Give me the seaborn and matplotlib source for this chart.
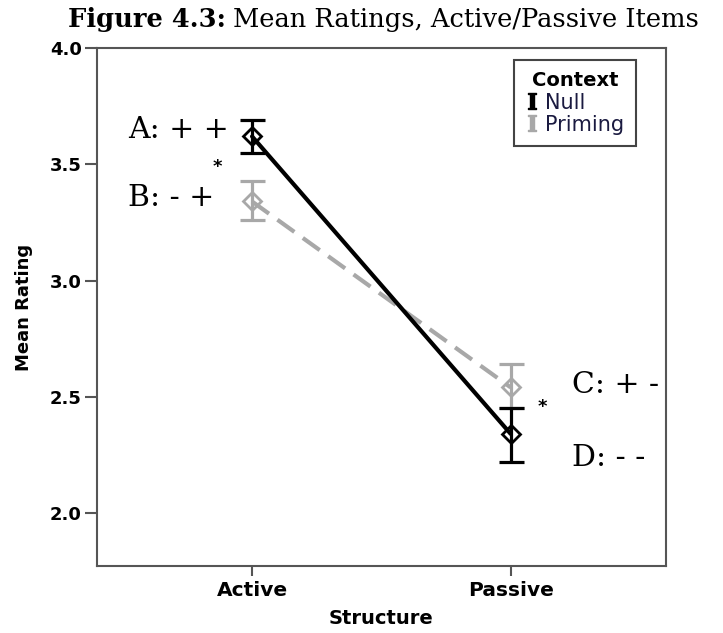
import numpy as np
import pandas as pd
import matplotlib
matplotlib.use("Agg")
import matplotlib.pyplot as plt
import seaborn as sns
from matplotlib.lines import Line2D

# data
structures = ["Active", "Passive"]
contexts = ["Null", "Priming"]
null_mean = [3.62, 2.34]
null_lo = [3.55, 2.22]
null_hi = [3.69, 2.45]
priming_mean = [3.34, 2.54]
priming_lo = [3.26, 2.45]
priming_hi = [3.43, 2.64]
tick_vals = [2.0, 2.5, 3.0, 3.5, 4.0]
cell_labels = ["A: + +", "B: - +", "C: + -", "D: - -"]

colors = {"Null": "black", "Priming": "#a8a8a8"}
sans = "DejaVu Sans"
serif = "DejaVu Serif"

sns.set_style("white")
plt.rcParams["font.family"] = [sans]
plt.rcParams["mathtext.fontset"] = "dejavuserif"
plt.rcParams["text.color"] = "black"
plt.rcParams["axes.labelcolor"] = "black"
plt.rcParams["xtick.labelcolor"] = "black"
plt.rcParams["ytick.labelcolor"] = "black"

df = pd.DataFrame({
    "Structure": structures * 2,
    "Context": ["Null"] * 2 + ["Priming"] * 2,
    "Mean": null_mean + priming_mean,
})

fig = plt.figure(figsize=(7.23, 6.33), dpi=100)
ax = fig.add_axes([0.134, 0.106, 0.787, 0.818])

# priming first so the null series sits on top
sns.pointplot(data=df, x="Structure", y="Mean", hue="Context",
              hue_order=["Priming", "Null"], order=structures,
              palette=colors, markers=["D", "D"], linestyles=["--", "-"],
              errorbar=None, dodge=False, ax=ax, legend=False)
for ln in ax.lines:
    ln.set_linewidth(3)
    ln.set_markersize(9.5)
    ln.set_markerfacecolor("none")
    ln.set_markeredgewidth(2)
    if ln.get_linestyle() == "--":
        ln.set_dashes([5, 2.5])

xi = np.arange(len(structures))
for name, m, lo, hi, z in [("Priming", priming_mean, priming_lo, priming_hi, 1),
                           ("Null", null_mean, null_lo, null_hi, 3)]:
    m = np.array(m)
    ax.errorbar(xi, m, yerr=[m - np.array(lo), np.array(hi) - m], fmt="none",
                ecolor=colors[name], elinewidth=2.3, capsize=9, capthick=2.3,
                zorder=z)

ax.set_xlim(-0.6, 1.6)
ax.set_ylim(1.772, 4.0)
ax.set_yticks(tick_vals)
ax.set_yticklabels([f"{v:.1f}" for v in tick_vals])

for s in ax.spines.values():
    s.set_visible(True)
    s.set_color("#555555")
    s.set_linewidth(1.5)
ax.tick_params(axis="both", direction="out", width=1.5, color="#555555")
ax.tick_params(axis="y", length=9, labelsize=13, pad=2)
ax.tick_params(axis="x", length=7, labelsize=14.5, pad=4)
ax.tick_params(left=True, bottom=True)
for t in ax.get_xticklabels() + ax.get_yticklabels():
    t.set_fontweight("bold")

ax.set_xlabel("Structure", fontsize=14, fontweight="bold", labelpad=6)
ax.set_ylabel("Mean Rating", fontsize=13, fontweight="bold", labelpad=12)

# cell labels and significance stars
lab_x = [-0.48, -0.48, 1.237, 1.237]
lab_y = [3.647, 3.355, 2.55, 2.236]
for txt, x, y in zip(cell_labels, lab_x, lab_y):
    ax.text(x, y, txt, fontsize=21.5, family=serif, va="center", ha="left")
ax.text(-0.136, 3.49, "*", fontsize=13, fontweight="bold", ha="center", va="center")
ax.text(1.124, 2.455, "*", fontsize=13, fontweight="bold", ha="center", va="center")

handles = [Line2D([], [], color=colors[c], marker=r"$\mathbf{I}$", markersize=12,
                  linestyle="none") for c in contexts]
leg = ax.legend(handles, contexts, title="Context", loc="upper right",
                bbox_to_anchor=(0.947, 0.977), fancybox=False, framealpha=1,
                edgecolor="#444444", fontsize=15, handlelength=0.6,
                handletextpad=0.35, borderpad=0.55, labelspacing=0.1,
                borderaxespad=0)
leg.get_frame().set_linewidth(1.5)
leg.get_title().set_fontweight("bold")
leg.get_title().set_fontsize(14)
for t in leg.get_texts():
    t.set_color("#1a1a40")

# title: bold lead-in followed by regular text
t1 = fig.text(68 / 723, 1 - 20 / 633, "Figure 4.3:", fontsize=18.5, family=serif,
              fontweight="bold", ha="left", va="center")
fig.canvas.draw()
bb = t1.get_window_extent()
fig.text(bb.x1 / fig.bbox.width + 0.01, 1 - 20 / 633,
         "Mean Ratings, Active/Passive Items", fontsize=18.5, family=serif,
         ha="left", va="center")

fig.savefig("out.png", dpi=100)
